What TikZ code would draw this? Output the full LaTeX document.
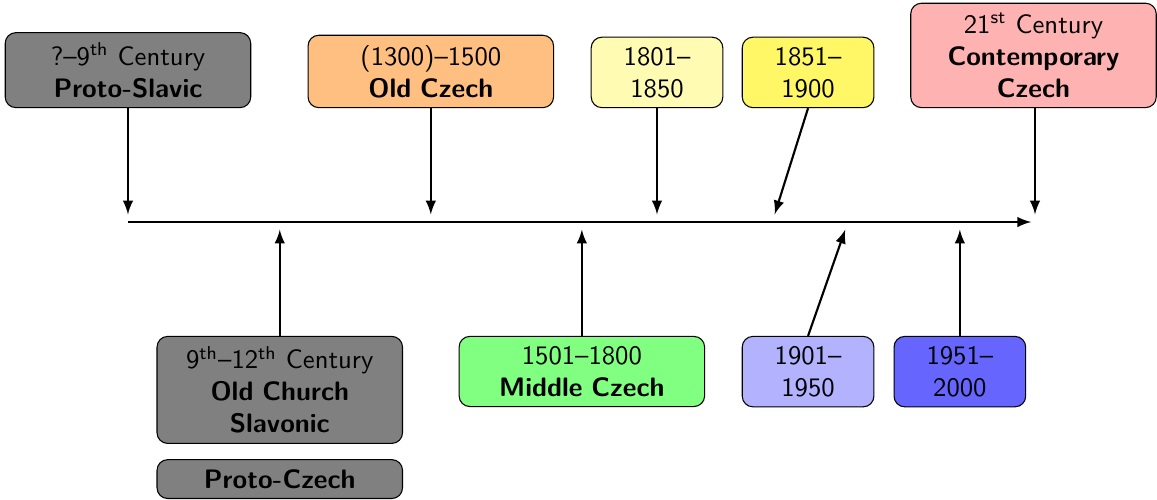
\documentclass[tikz,border=0pt]{standalone}
\usepackage{tikz}
\usetikzlibrary{positioning}
\usetikzlibrary{calc}

\tikzset{
  era/.style={draw, rounded corners, align=center, text width=3cm, inner ysep=3.7pt, font=\sffamily},
  half/.style={draw, rounded corners, align=center, text width=1.5cm, inner ysep=3.7pt, font=\sffamily},
  tick/.style={-latex, thick},
}

\begin{document}
\begin{tikzpicture}
    \useasboundingbox (-1.686,-3.65) rectangle (13.557,2.925);

    % axis
    \coordinate(a0) at (0,0);
    \coordinate(a1) at (11.9,0);
    \draw[-latex, thick] (a0) -- (a1);

    % top row
    \node(ps) [era, fill=black!50, anchor=south] at (0,1.5) {?--9\textsuperscript{th} Century\\\textbf{Proto-Slavic}};
    \node(oc) [era, fill=orange!50, anchor=south] at (3.99,1.5) {(1300)--1500\\\textbf{Old Czech}};
    \node(y1) [half, fill=yellow!30, anchor=south] at (6.97,1.5) {1801--\\1850};
    \node(y2) [half, fill=yellow!60, anchor=south] at (8.96,1.5) {1851--\\1900};
    \node(cc) [era, fill=red!30, anchor=south] at (11.93,1.5) {21\textsuperscript{st} Century\\\textbf{Contemporary}\\\textbf{Czech}};

    % bottom row
    \node(ocs) [era, fill=black!50, anchor=north] at (2,-1.5) {9\textsuperscript{th}--12\textsuperscript{th} Century\\\textbf{Old Church}\\\textbf{Slavonic}};
    \node(pc) [era, fill=black!50, below=0.2 of ocs] {\textbf{Proto-Czech}};
    \node(mc) [era, fill=green!50, anchor=north] at (5.98,-1.5) {1501--1800\\\textbf{Middle Czech}};
    \node(y3) [half, fill=blue!30, anchor=north] at (8.96,-1.5) {1901--\\1950};
    \node(y4) [half, fill=blue!60, anchor=north] at (10.96,-1.5) {1951--\\2000};

    % marks on the axis
    \coordinate(t1) at (0,0.1);
    \coordinate(t2) at (3.99,0.1);
    \coordinate(t3) at (6.97,0.1);
    \coordinate(t4) at (8.52,0.1);
    \coordinate(t5) at (11.95,0.1);
    \coordinate(b1) at (2,-0.1);
    \coordinate(b2) at (5.98,-0.1);
    \coordinate(b3) at (9.45,-0.1);
    \coordinate(b4) at (10.96,-0.1);

    \draw[tick] (ps) -- (t1);
    \draw[tick] (oc) -- (t2);
    \draw[tick] (y1) -- (t3);
    \draw[tick] (y2.south) -- (t4);
    \draw[tick] (cc.south -| t5) -- (t5);

    \draw[tick] (ocs) -- (b1);
    \draw[tick] (mc) -- (b2);
    \draw[tick] (y3.north) -- (b3);
    \draw[tick] (y4) -- (b4);
\end{tikzpicture}
\end{document}
